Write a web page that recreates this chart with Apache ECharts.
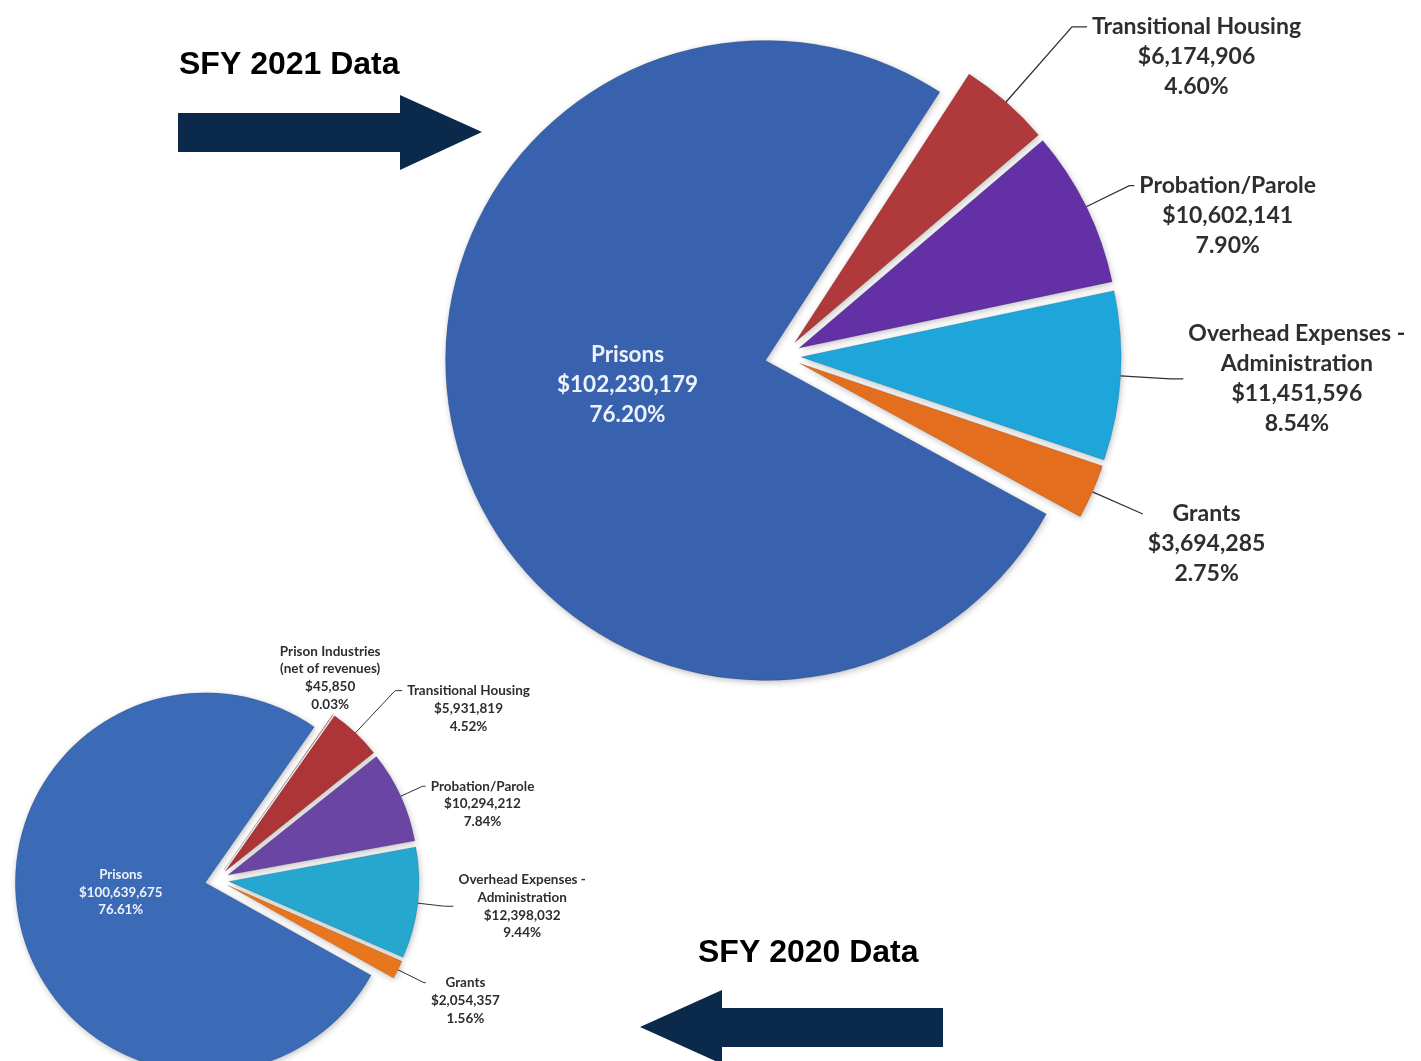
<!DOCTYPE html>
<html>
<head>
<meta charset="utf-8">
<title>SFY 2021 / SFY 2020 Data</title>
<script src="https://cdn.jsdelivr.net/npm/echarts@6/dist/echarts.min.js"></script>
<style>
  html, body { margin: 0; padding: 0; background: #fff; }
  #main { width: 1421px; height: 1061px; }
</style>
</head>
<body>
<div id="main"></div>
<script>
// SFY 2021 spending
const categories2021 = ['Transitional Housing', 'Probation/Parole', 'Overhead Expenses -\nAdministration', 'Grants', 'Prisons'];
const values2021 = [6174906, 10602141, 11451596, 3694285, 102230179];

// SFY 2020 spending
const categories2020 = ['Prison Industries\n(net of revenues)', 'Transitional Housing', 'Probation/Parole', 'Overhead Expenses -\nAdministration', 'Grants', 'Prisons'];
const values2020 = [45850, 5931819, 10294212, 12398032, 2054357, 100639675];

const colors2021 = ['#b0393b', '#6430a6', '#1ea6da', '#e36e1e', '#3862ae'];
const colors2020 = ['#b0393b', '#ad3538', '#6b45a3', '#25a7cf', '#e8761f', '#3b6bb7'];

// label placement per slice (outside: leader line lengths; inside: padding nudge)
const labelCfg2021 = [
  { len: 100, len2: 15, blanks: 2 },
  { len: 48, len2: 5, blanks: 2 },
  { len: 50, len2: 13, blanks: 0 },
  { len: 55, len2: 0, blanks: 2 },
  { inside: true, pad: [0, 0, 32, 40], rich: 'w' }
];
const labelCfg2020 = [
  { inside: true, pad: [0, 0, 224, 100], rich: 't' },
  { len: 58, len2: 7, blanks: 2 },
  { len: 24, len2: 3, blanks: 2 },
  { len: 27, len2: 9, blanks: 0 },
  { len: 29, len2: 2, blanks: 2 },
  { inside: true, pad: [0, 0, 24, 22], rich: 'w' }
];

function money(v) {
  return '$' + v.toLocaleString('en-US');
}

function buildData(cats, vals, colors, cfg) {
  const total = vals.reduce((a, b) => a + b, 0);
  return cats.map((name, i) => {
    const pct = (vals[i] / total * 100).toFixed(2) + '%';
    const txt = name.split('\n').concat([money(vals[i]), pct]);
    const c = cfg[i];
    const item = { name: name, value: vals[i], selected: true, itemStyle: { color: colors[i] } };
    if (c.inside) {
      item.label = {
        position: 'inside',
        padding: c.pad,
        formatter: txt.map(s => '{' + c.rich + '|' + s + '}').join('\n')
      };
      item.labelLine = { show: false };
    } else {
      const blanks = new Array(c.blanks).fill(' ');
      item.label = { formatter: blanks.concat(txt).map(s => '{t|' + s + '}').join('\n') };
      item.labelLine = { length: c.len, length2: c.len2 };
    }
    return item;
  });
}

const chart = echarts.init(document.getElementById('main'));

const sliceStyle = {
  borderColor: 'rgba(0,0,0,0.12)',
  borderWidth: 1,
  shadowColor: 'rgba(0,0,0,0.25)',
  shadowBlur: 6,
  shadowOffsetX: 1,
  shadowOffsetY: 2
};

const option = {
  backgroundColor: '#ffffff',
  animation: false,
  graphic: [
    {
      type: 'polygon',
      shape: { points: [[178, 113], [400, 113], [400, 95], [482, 132], [400, 170], [400, 152], [178, 152]] },
      style: { fill: '#0b2a4b' }
    },
    {
      type: 'polygon',
      shape: { points: [[943, 1008], [722, 1008], [722, 990], [640, 1027], [722, 1064], [722, 1047], [943, 1047]] },
      style: { fill: '#0b2a4b' }
    },
    {
      type: 'text', x: 179, y: 65,
      style: { text: 'SFY 2021 Data', font: 'bold 32px "Liberation Sans", Arial', fill: '#000', verticalAlign: 'middle' }
    },
    {
      type: 'text', x: 698, y: 953,
      style: { text: 'SFY 2020 Data', font: 'bold 32px "Liberation Sans", Arial', fill: '#000', verticalAlign: 'middle' }
    }
  ],
  series: [
    {
      name: 'SFY 2021',
      type: 'pie',
      center: [783, 356],
      radius: 320,
      startAngle: 57,
      clockwise: true,
      selectedMode: 'multiple',
      selectedOffset: 18,
      avoidLabelOverlap: false,
      emphasis: { disabled: true },
      itemStyle: sliceStyle,
      label: {
        show: true,
        position: 'outside',
        rich: {
          t: { fontFamily: 'Lato', fontWeight: 'bold', fontSize: 23, lineHeight: 30, color: '#2e2e2e', align: 'center' },
          w: { fontFamily: 'Lato', fontWeight: 'bold', fontSize: 22.5, lineHeight: 30, color: '#eef2fa', align: 'center' }
        }
      },
      labelLine: { lineStyle: { color: '#333', width: 1.3 } },
      labelLayout: { hideOverlap: false },
      data: buildData(categories2021, values2021, colors2021, labelCfg2021)
    },
    {
      name: 'SFY 2020',
      type: 'pie',
      center: [217, 880],
      radius: 190,
      startAngle: 55,
      clockwise: true,
      selectedMode: 'multiple',
      selectedOffset: 12,
      avoidLabelOverlap: false,
      emphasis: { disabled: true },
      itemStyle: sliceStyle,
      label: {
        show: true,
        position: 'outside',
        rich: {
          t: { fontFamily: 'Lato', fontWeight: 'bold', fontSize: 13.5, lineHeight: 17.8, color: '#2e2e2e', align: 'center' },
          w: { fontFamily: 'Lato', fontWeight: 'bold', fontSize: 13.3, lineHeight: 17.5, color: '#eef2fa', align: 'center' }
        }
      },
      labelLine: { lineStyle: { color: '#333', width: 1 } },
      labelLayout: { hideOverlap: false },
      data: buildData(categories2020, values2020, colors2020, labelCfg2020)
    }
  ]
};

chart.setOption(option);
</script>
</body>
</html>
